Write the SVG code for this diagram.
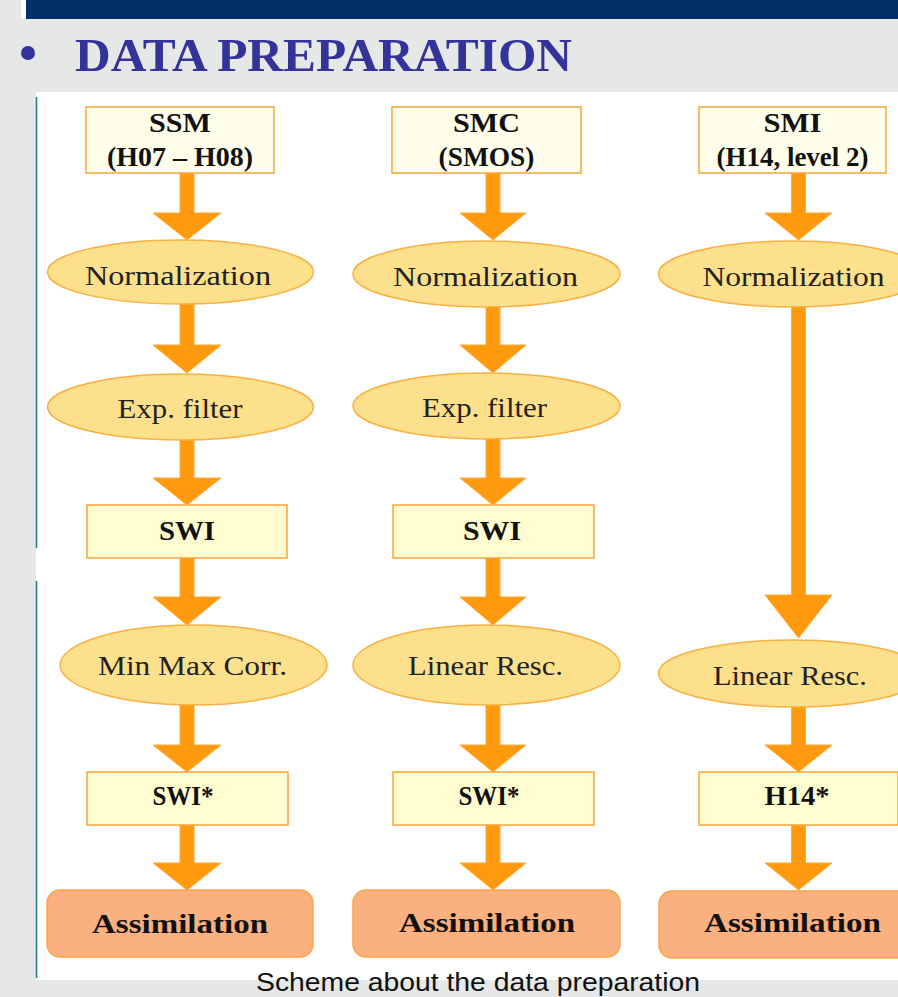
<svg xmlns="http://www.w3.org/2000/svg" width="898" height="997" viewBox="0 0 898 997">
<style>
.box{fill:#fffdcf;stroke:#f9a43c;stroke-width:1.5}
.top{fill:#fffeea;stroke:#f9a43c;stroke-width:1.5}
.ell{fill:#fde08c;stroke:#f8b040;stroke-width:1.5}
.asm{fill:#fbb07f;stroke:#fca447;stroke-width:1.5}
.arr{fill:#ff9a0e;stroke:#ffaa3a;stroke-width:1}
.b{font-family:"Liberation Serif",serif;font-weight:bold;font-size:27px;fill:#111;text-anchor:middle}
.r{font-family:"Liberation Serif",serif;font-size:28px;fill:#222;text-anchor:middle}
</style>
<rect width="898" height="997" fill="#e6e8e7"/>
<rect x="21" y="0" width="5" height="19" fill="#ffffff"/>
<rect x="26" y="0" width="872" height="19" fill="#003066"/>
<circle cx="28" cy="53" r="7" fill="#333399"/>
<text x="75" y="71" font-family="Liberation Serif,serif" font-weight="bold" font-size="47" fill="#333399" textLength="497" lengthAdjust="spacingAndGlyphs">DATA PREPARATION</text>
<rect x="36" y="92" width="862" height="888" fill="#ffffff"/>
<line x1="36.5" y1="97" x2="36.5" y2="548" stroke="#1f7a7a" stroke-width="1.5"/>
<line x1="36.5" y1="581" x2="36.5" y2="978" stroke="#1f7a7a" stroke-width="1.5"/>
<text x="256" y="991" font-family="Liberation Sans,Arial,sans-serif" font-size="25" fill="#111" textLength="444" lengthAdjust="spacingAndGlyphs">Scheme about the data preparation</text>

<g id="connectors">
<path class="arr" d="M180,173 V213 H153 L187,240 L221,213 H194 V173 Z"/>
<path class="arr" d="M180,300 V345 H153 L187,373 L221,345 H194 V300 Z"/>
<path class="arr" d="M180,435 V478 H153 L187,505 L221,478 H194 V435 Z"/>
<path class="arr" d="M180,558 V597 H153 L187,625 L221,597 H194 V558 Z"/>
<path class="arr" d="M180,700 V745 H153 L187,772 L221,745 H194 V700 Z"/>
<path class="arr" d="M180,825 V863 H153 L187,890 L221,863 H194 V825 Z"/>

<path class="arr" d="M486,173 V213 H460 L493,240 L526,213 H500 V173 Z"/>
<path class="arr" d="M486,300 V345 H460 L493,373 L526,345 H500 V300 Z"/>
<path class="arr" d="M486,435 V478 H460 L493,505 L526,478 H500 V435 Z"/>
<path class="arr" d="M486,558 V597 H460 L493,625 L526,597 H500 V558 Z"/>
<path class="arr" d="M486,700 V745 H460 L493,772 L526,745 H500 V700 Z"/>
<path class="arr" d="M486,825 V863 H460 L493,890 L526,863 H500 V825 Z"/>

<path class="arr" d="M791.5,173 V213 H765 L798.5,240 L832,213 H805.5 V173 Z"/>
<path class="arr" d="M791.5,300 V595 H765 L798.5,638 L832,595 H805.5 V300 Z"/>
<path class="arr" d="M791.5,702 V745 H765 L798.5,772 L832,745 H805.5 V702 Z"/>
<path class="arr" d="M791.5,825 V863 H765 L798.5,890 L832,863 H805.5 V825 Z"/>
</g>

<g id="ssm"><rect class="top" x="86" y="107" width="188" height="66"/><text class="b" x="180" y="132" textLength="62" lengthAdjust="spacingAndGlyphs">SSM</text><text class="b" x="180" y="166" textLength="146" lengthAdjust="spacingAndGlyphs">(H07 – H08)</text></g>
<g id="norm1"><ellipse class="ell" cx="180.5" cy="272" rx="133" ry="32"/><text class="r" x="178" y="285" textLength="186" lengthAdjust="spacingAndGlyphs">Normalization</text></g>
<g id="exp1"><ellipse class="ell" cx="180.5" cy="407" rx="133" ry="33"/><text class="r" x="180" y="418" textLength="125" lengthAdjust="spacingAndGlyphs">Exp. filter</text></g>
<g id="swi1"><rect class="box" x="87" y="505" width="200" height="53"/><text class="b" x="187" y="540" textLength="56" lengthAdjust="spacingAndGlyphs">SWI</text></g>
<g id="minmax"><ellipse class="ell" cx="193.5" cy="665" rx="133.5" ry="40"/><text class="r" x="192.5" y="675" textLength="189" lengthAdjust="spacingAndGlyphs">Min Max Corr.</text></g>
<g id="swis1"><rect class="box" x="87" y="772" width="201" height="53"/><text class="b" x="183" y="805" textLength="61" lengthAdjust="spacingAndGlyphs">SWI*</text></g>
<g id="asm1"><rect class="asm" x="47" y="890" width="266" height="67" rx="13"/><text class="b" x="180" y="933" font-size="30" textLength="176" lengthAdjust="spacingAndGlyphs">Assimilation</text></g>

<g id="smc"><rect class="top" x="392" y="107" width="189" height="66"/><text class="b" x="486.5" y="132" textLength="67" lengthAdjust="spacingAndGlyphs">SMC</text><text class="b" x="486.5" y="166" textLength="96" lengthAdjust="spacingAndGlyphs">(SMOS)</text></g>
<g id="norm2"><ellipse class="ell" cx="486.5" cy="274" rx="133.5" ry="33"/><text class="r" x="485.5" y="286" textLength="185" lengthAdjust="spacingAndGlyphs">Normalization</text></g>
<g id="exp2"><ellipse class="ell" cx="486.5" cy="406" rx="133.5" ry="33"/><text class="r" x="484.5" y="417" textLength="125" lengthAdjust="spacingAndGlyphs">Exp. filter</text></g>
<g id="swi2"><rect class="box" x="393" y="505" width="201" height="53"/><text class="b" x="492" y="540" textLength="58" lengthAdjust="spacingAndGlyphs">SWI</text></g>
<g id="lin2"><ellipse class="ell" cx="486.5" cy="665" rx="133.5" ry="40"/><text class="r" x="485.5" y="675" textLength="155" lengthAdjust="spacingAndGlyphs">Linear Resc.</text></g>
<g id="swis2"><rect class="box" x="393" y="772" width="201" height="53"/><text class="b" x="489" y="805" textLength="61" lengthAdjust="spacingAndGlyphs">SWI*</text></g>
<g id="asm2"><rect class="asm" x="353" y="890" width="267" height="67" rx="13"/><text class="b" x="487" y="932" font-size="30" textLength="176" lengthAdjust="spacingAndGlyphs">Assimilation</text></g>

<g id="smi"><rect class="top" x="699" y="107" width="187" height="66"/><text class="b" x="792.5" y="132" textLength="58" lengthAdjust="spacingAndGlyphs">SMI</text><text class="b" x="792.5" y="166" textLength="152" lengthAdjust="spacingAndGlyphs">(H14, level 2)</text></g>
<g id="norm3"><ellipse class="ell" cx="792" cy="274" rx="133.5" ry="33"/><text class="r" x="793.5" y="286" textLength="182" lengthAdjust="spacingAndGlyphs">Normalization</text></g>
<g id="lin3"><ellipse class="ell" cx="792" cy="673.5" rx="133.5" ry="33.5"/><text class="r" x="790" y="685" textLength="154" lengthAdjust="spacingAndGlyphs">Linear Resc.</text></g>
<g id="h14"><rect class="box" x="699" y="772" width="199" height="53"/><text class="b" x="797" y="805" textLength="65" lengthAdjust="spacingAndGlyphs">H14*</text></g>
<g id="asm3"><rect class="asm" x="659" y="891" width="267" height="67" rx="13"/><text class="b" x="792.5" y="932" font-size="30" textLength="177" lengthAdjust="spacingAndGlyphs">Assimilation</text></g>
</svg>
